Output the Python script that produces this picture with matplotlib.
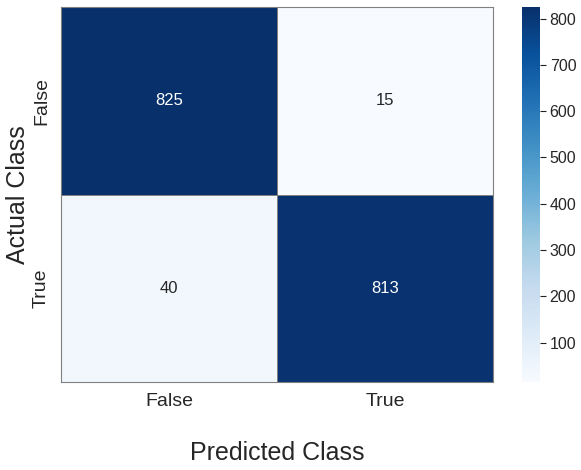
import numpy as np
import matplotlib
matplotlib.use('Agg')
import matplotlib.pyplot as plt
import seaborn as sns

classes = ['False', 'True']
counts = [[825, 15],
          [40, 813]]

sns.set_style('white')
plt.rcParams['font.family'] = ['Liberation Sans', 'DejaVu Sans']

fig = plt.figure(figsize=(5.81, 4.70), dpi=100)
ax = fig.add_axes([61 / 581, 1 - 382 / 470, 432 / 581, 375 / 470])
cax = fig.add_axes([522 / 581, 1 - 382 / 470, 18 / 581, 375 / 470])

sns.heatmap(np.array(counts), annot=True, fmt='d', cmap='Blues',
            linewidths=0.5, linecolor='gray', ax=ax, cbar_ax=cax,
            xticklabels=classes, yticklabels=classes,
            annot_kws={'size': 12})

for s in ax.spines.values():
    s.set_visible(True)
    s.set_color('gray')
    s.set_linewidth(0.8)

ax.tick_params(axis='x', labelsize=14, length=0, pad=8)
ax.tick_params(axis='y', labelsize=14, length=0, pad=8)
ax.set_xlabel('Predicted Class', fontsize=18, labelpad=22)
ax.set_ylabel('Actual Class', fontsize=18, labelpad=2)

cax.tick_params(labelsize=11.5, length=4, width=0.8, right=True, color='#222222', pad=3)
cax.yaxis.set_ticks_position('right')

fig.savefig('out.png', dpi=100)
